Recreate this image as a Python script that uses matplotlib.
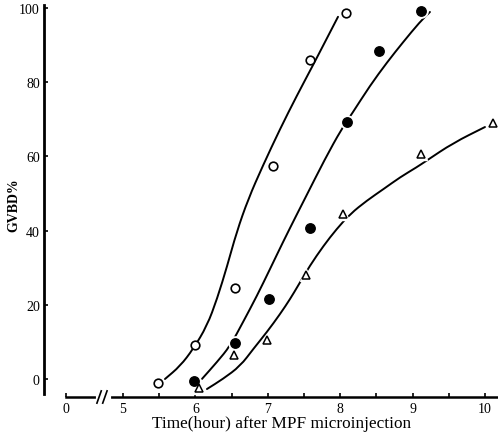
import matplotlib
matplotlib.use("Agg")
import matplotlib.pyplot as plt
from matplotlib.ticker import FixedLocator
from matplotlib.path import Path
from matplotlib.patches import PathPatch

plt.rcParams['font.family'] = ['Liberation Serif', 'DejaVu Serif']

# ---- data ----
open_x = [5.48, 5.99, 6.55, 7.07, 7.58, 8.08]
open_y = [-1.0, 9.2, 24.5, 57.4, 86.0, 98.7]

filled_x = [5.98, 6.55, 7.02, 7.58, 8.09, 8.54, 9.12]
filled_y = [-0.5, 9.7, 21.6, 40.7, 69.3, 88.4, 99.2]

tri_x = [6.05, 6.53, 6.99, 7.53, 8.04, 9.12, 10.11]
tri_y = [-2.4, 6.5, 10.5, 28.0, 44.5, 60.6, 69.0]

# hand-drawn fitted curves
open_curve_x = [5.58, 5.79, 5.97, 6.16, 6.30, 6.44, 6.57, 6.73, 6.93, 7.17, 7.40, 7.62, 7.79, 7.97]
open_curve_y = [0.0, 3.5, 8.1, 14.3, 21.6, 30.5, 39.6, 48.5, 57.4, 67.4, 76.3, 84.4, 90.8, 97.6]

filled_curve_x = [6.09, 6.30, 6.48, 6.66, 6.85, 7.03, 7.21, 7.40, 7.51, 7.79, 8.02, 8.16, 8.41, 8.65, 8.87, 9.10, 9.24]
filled_curve_y = [0.0, 4.6, 8.9, 15.4, 22.4, 29.6, 36.9, 44.3, 48.5, 59.3, 67.4, 71.4, 79.0, 85.4, 90.8, 96.2, 98.9]

tri_curve_x = [6.16, 6.38, 6.62, 6.80, 6.99, 7.17, 7.31, 7.42, 7.58, 7.77, 7.95, 8.14, 8.37, 8.60, 8.83, 9.06, 9.19, 9.56, 10.0]
tri_curve_y = [-2.7, 0.0, 3.5, 8.1, 12.7, 17.5, 21.6, 25.2, 30.5, 35.9, 40.4, 44.5, 48.1, 51.2, 54.4, 57.1, 58.8, 63.6, 67.9]

x_ticks = [5, 6, 7, 8, 9, 10]
x_minor = [5.5, 6.5, 7.5, 8.5, 9.5]
y_ticks = [0, 20, 40, 60, 80, 100]
ZERO_POS = 4.21   # where the "0" of the broken time axis is drawn
BREAK_POS = 4.72  # location of the axis break


def smooth_path(xs, ys):
    """Quadratic B-spline path using the read points as control points."""
    pts = list(zip(xs, ys))
    verts = [pts[0]]
    codes = [Path.MOVETO]
    mid = lambda a, b: ((a[0] + b[0]) / 2, (a[1] + b[1]) / 2)
    verts.append(mid(pts[0], pts[1]))
    codes.append(Path.LINETO)
    for i in range(1, len(pts) - 1):
        verts += [pts[i], mid(pts[i], pts[i + 1])]
        codes += [Path.CURVE3, Path.CURVE3]
    verts.append(pts[-1])
    codes.append(Path.LINETO)
    return Path(verts, codes)


fig = plt.figure(figsize=(4.98, 4.35), dpi=100)
ax = fig.add_axes([44/498, 37/435, 454/498, 398/435])
ax.set_xlim(3.909, 10.18)
ax.set_ylim(-4.85, 102.4)

lw = 1.4
for cx, cy in [(open_curve_x, open_curve_y), (filled_curve_x, filled_curve_y), (tri_curve_x, tri_curve_y)]:
    ax.add_patch(PathPatch(smooth_path(cx, cy), fill=False, edgecolor='black', lw=lw,
                           capstyle='round', zorder=2))

# small white halos so curves are interrupted right next to the markers
for xs, ys, m, s in [(filled_x, filled_y, 'o', 9.5), (tri_x, tri_y, '^', 9)]:
    ax.plot(xs, ys, ls='none', marker=m, ms=s, mfc='white', mec='white', zorder=3)

ax.plot(open_x, open_y, ls='none', marker='o', ms=6.2, mfc='white', mec='black', mew=1.2, zorder=4)
ax.plot(filled_x, filled_y, ls='none', marker='o', ms=6.8, mfc='black', mec='black', zorder=4)
ax.plot(tri_x, tri_y, ls='none', marker='^', ms=5.5, mfc='white', mec='black', mew=1.1, zorder=4)

for s in ['top', 'right']:
    ax.spines[s].set_visible(False)
ax.spines['left'].set_bounds(-4.0, 100.8)
ax.spines['left'].set_linewidth(2.0)
ax.spines['bottom'].set_bounds(ZERO_POS, 10.18)
ax.spines['bottom'].set_linewidth(1.8)

ax.xaxis.set_major_locator(FixedLocator([ZERO_POS] + x_ticks))
ax.set_xticklabels(['0'] + [str(v) for v in x_ticks])
ax.xaxis.set_minor_locator(FixedLocator(x_minor))
ax.set_yticks(y_ticks)
ax.set_yticklabels([str(v) for v in y_ticks])

ax.tick_params(axis='x', which='both', direction='in', length=3, width=1.2, pad=3.5, labelsize=10)
ax.tick_params(axis='y', which='both', direction='in', length=3, width=1.2, pad=3, labelsize=10)

ax.set_xlabel('Time(hour) after MPF microinjection', fontsize=12.4)
ax.xaxis.set_label_coords(0.523, -0.045)
ax.set_ylabel('GVBD%', fontsize=10, fontweight='bold')
ax.yaxis.set_label_coords(-0.052, 0.485)

# axis break marks
ax.plot([BREAK_POS - 0.06, BREAK_POS + 0.08], [-4.85, -4.85], color='white', lw=3,
        clip_on=False, zorder=5)
for dx in (-0.05, 0.03):
    ax.plot([BREAK_POS + dx - 0.03, BREAK_POS + dx + 0.03], [-6.5, -3.2], color='black', lw=1.2,
            clip_on=False, zorder=6)

fig.savefig('out.png', dpi=100)
